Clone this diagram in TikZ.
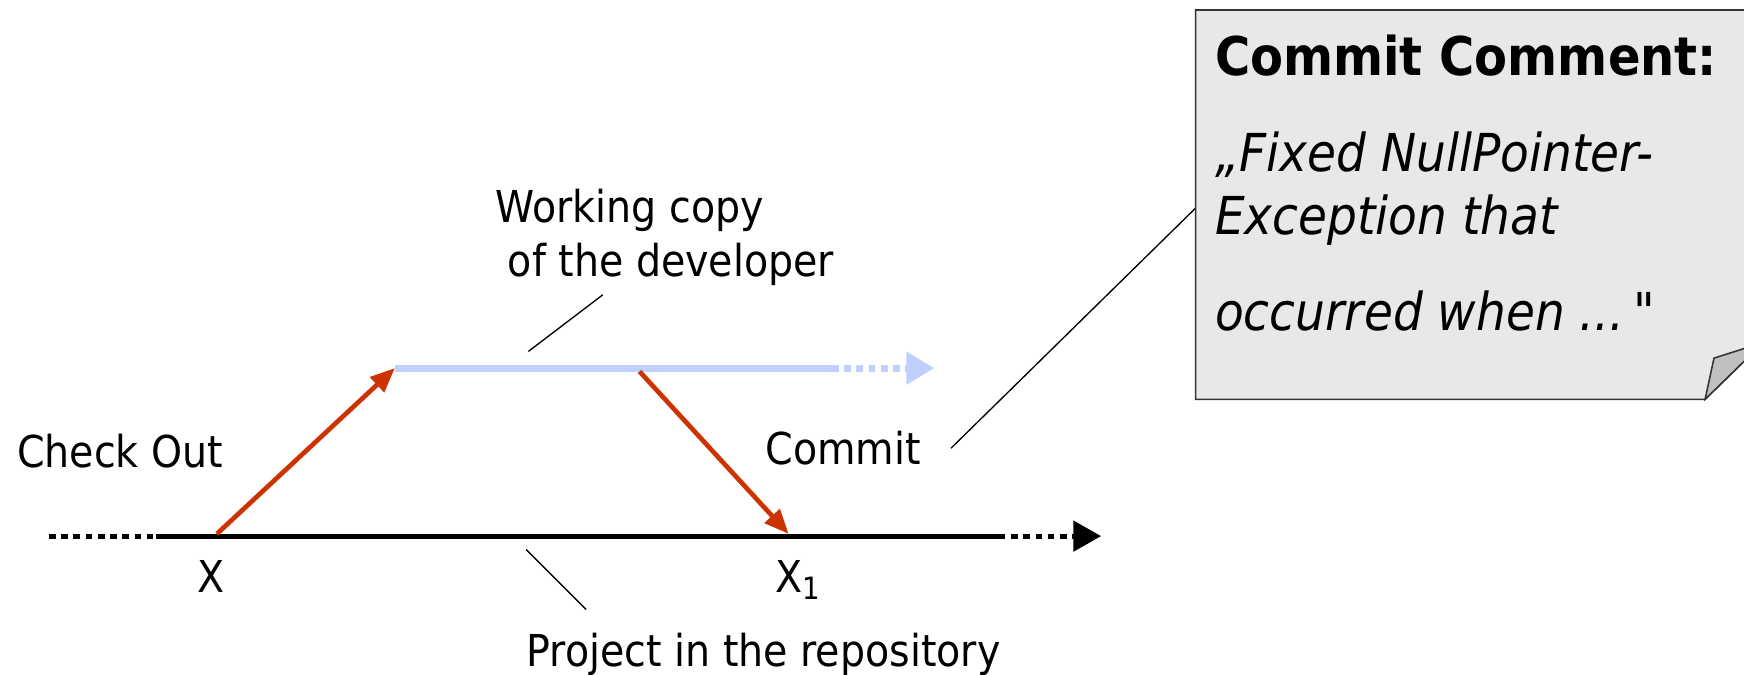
\documentclass[tikz,border=0pt]{standalone}
\usepackage{fontspec}
\setmainfont{DejaVu Sans}[FakeStretch=0.9, Ligatures=TeXOff]
\usetikzlibrary{arrows.meta}

\definecolor{wcblue}{RGB}{191,207,255}
\definecolor{opred}{RGB}{204,51,0}
\definecolor{notegray}{RGB}{232,232,232}
\definecolor{foldgray}{RGB}{192,192,192}

\begin{document}
\begin{tikzpicture}[
    % Global styles
    x=0.5pt, y=-0.5pt,
    lbl/.style={inner sep=0pt, font=\fontsize{19.75}{24.5}\selectfont},
    repo/.style={line width=2.25pt, black},
    wcline/.style={line width=3.2pt, wcblue},
    dots/.style={dash pattern=on 3pt off 2.5pt},
    op/.style={line width=2.1pt, opred, -{Triangle[length=11pt,width=9pt]}},
    pointer/.style={line width=0.6pt, black},
    note/.style={line width=0.7pt, draw=black!80, fill=notegray}
    ]
    \useasboundingbox (0,0) rectangle (1568,606);
    \clip (0,0) rectangle (1568,606);

    % ===========================
    % REPOSITORY LINE
    % ===========================
    \coordinate (repoL) at (44,482);
    \coordinate (repoS) at (140,482);
    \coordinate (repoE) at (898,482);
    \coordinate (repoT) at (990,482);

    \draw[repo, dots] (repoL) -- (repoS);
    \draw[repo] (repoS) -- (repoE);
    \draw[repo, dots, -{Triangle[length=12.5pt,width=13.5pt]}] (repoE) -- (repoT);

    % ===========================
    % WORKING COPY LINE
    % ===========================
    \coordinate (wcS) at (355,331);
    \coordinate (wcE) at (748,331);
    \coordinate (wcT) at (840,331);

    \draw[wcline] (wcS) -- (wcE);
    \draw[wcline, dots, -{Triangle[length=12.5pt,width=14pt]}] (wcE) -- (wcT);

    % Check out / commit (red arrows)
    \coordinate (coS) at (195,480);
    \coordinate (ciS) at (575,334);
    \coordinate (ciE) at (709,480);

    \draw[op] (coS) -- (wcS);
    \draw[op] (ciS) -- (ciE);

    % Labels (base of a two-line node = its last line)
    \node[lbl, anchor=base west] (chk) at (15,420) {Check Out};
    \node[lbl, anchor=base west] (cmt) at (688,418) {Commit};
    \node[lbl, anchor=base] (x) at (190,533) {X};
    \node[lbl, anchor=base west] (x1) at (697,533) {X\textsubscript{1}};
    \node[lbl, anchor=base west, align=left] (wc) at (445,249) {Working copy\\\mbox{}\ of the developer};
    \node[lbl, anchor=base west] (prj) at (473,599) {Project in the repository};

    % Pointers
    \coordinate (wcPa) at (475,316);
    \coordinate (wcPb) at (542,265);
    \coordinate (prjPa) at (473,494);
    \coordinate (prjPb) at (527,548);
    \coordinate (cmtPa) at (855,403);
    \coordinate (cmtPb) at (1075,187);

    \draw[pointer] (wcPa) -- (wcPb);
    \draw[pointer] (prjPa) -- (prjPb);
    \draw[pointer] (cmtPa) -- (cmtPb);

    % ===========================
    % COMMIT COMMENT NOTE
    % ===========================
    \draw[note] (1075,9) -- (1610,9) -- (1610,284) -- (1533,359) -- (1075,359) -- cycle;
    \draw[note, fill=foldgray] (1533,359) -- (1541,322) -- (1610,300) -- (1610,284) -- cycle;

    \node[anchor=base west, align=left, inner sep=0pt,
          font=\fontsize{23.5}{28.5}\selectfont] (cmtnote) at (1092,297)
        {{\fontsize{24}{28.5}\selectfont\bfseries Commit Comment:}\\[14.5pt]
         \textit{„Fixed NullPointer-}\\
         \textit{Exception that}\\[14.5pt]
         \textit{occurred when ...}\,"};

\end{tikzpicture}
\end{document}
